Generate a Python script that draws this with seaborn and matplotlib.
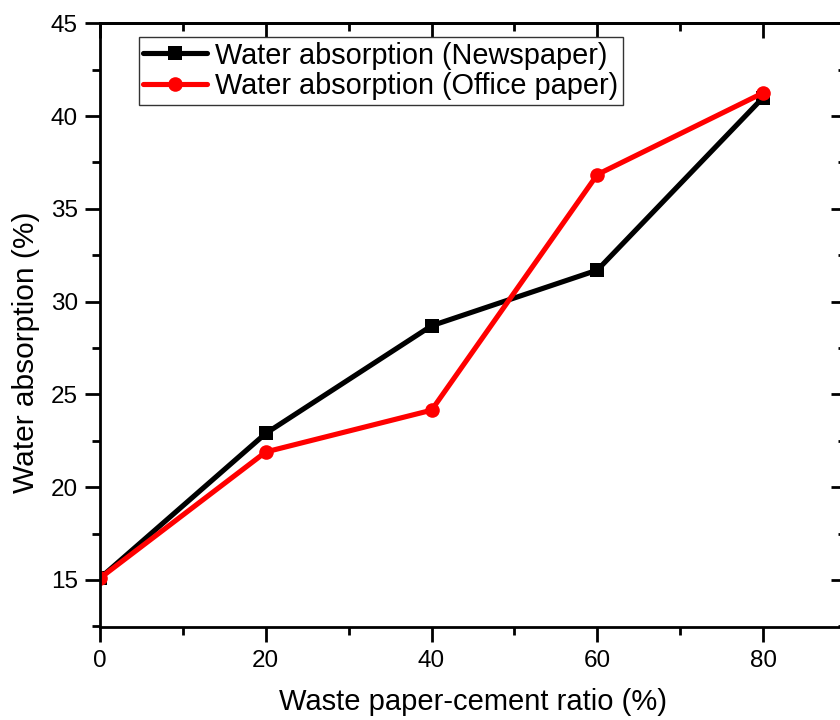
import matplotlib
matplotlib.use("Agg")
import matplotlib.pyplot as plt
import seaborn as sns
import pandas as pd
from matplotlib.ticker import MultipleLocator

ratio = [0, 20, 40, 60, 80]
newspaper = [15.1, 22.9, 28.7, 31.7, 41.0]
office = [15.1, 21.9, 24.15, 36.85, 41.25]
label_news = "Water absorption (Newspaper)"
label_office = "Water absorption (Office paper)"
xlabel = "Waste paper-cement ratio (%)"
ylabel = "Water absorption (%)"

sns.set_theme(style="white")
plt.rcParams['font.family'] = ['Liberation Sans', 'DejaVu Sans']
plt.rcParams['text.color'] = 'black'
plt.rcParams['axes.labelcolor'] = 'black'
plt.rcParams['xtick.color'] = 'black'
plt.rcParams['ytick.color'] = 'black'
plt.rcParams['xtick.labelsize'] = 17.5
plt.rcParams['ytick.labelsize'] = 17.5

df_news = pd.DataFrame({"x": ratio, "y": newspaper})
df_off = pd.DataFrame({"x": ratio, "y": office})

fig = plt.figure(figsize=(8.4, 7.2), dpi=100)
ax = fig.add_axes([100/840, 1-627.3/720, 746/840, (627.3-23.3)/720])

sns.lineplot(data=df_news, x="x", y="y", ax=ax, color="black", linewidth=3.7,
             marker="s", markersize=9.5, markeredgewidth=0, label=label_news)
sns.lineplot(data=df_off, x="x", y="y", ax=ax, color="#ff0000", linewidth=3.7,
             marker="o", markersize=10.5, markeredgewidth=0, label=label_office)

ax.set_xlim(0, 90)
ax.set_ylim(12.45, 45)
ax.xaxis.set_major_locator(MultipleLocator(20))
ax.xaxis.set_minor_locator(MultipleLocator(10))
ax.yaxis.set_major_locator(MultipleLocator(5))
ax.yaxis.set_minor_locator(MultipleLocator(2.5))
ax.set_yticks([15, 20, 25, 30, 35, 40, 45])

for s in ax.spines.values():
    s.set_visible(True)
    s.set_color("black")
    s.set_linewidth(2)

ax.tick_params(axis="both", which="major", direction="out", length=11, width=2,
               labelsize=17.5, colors="black", pad=5, bottom=True, left=True)
ax.tick_params(axis="both", which="minor", direction="out", length=6, width=2,
               colors="black", bottom=True, left=True)

top = ax.secondary_xaxis("top")
top.xaxis.set_major_locator(MultipleLocator(20))
top.xaxis.set_minor_locator(MultipleLocator(10))
top.tick_params(which="major", direction="in", length=11, width=2, labeltop=False)
top.tick_params(which="minor", direction="in", length=6, width=2)
right = ax.secondary_yaxis("right")
right.yaxis.set_major_locator(MultipleLocator(5))
right.yaxis.set_minor_locator(MultipleLocator(2.5))
right.tick_params(which="major", direction="in", length=11, width=2, labelright=False)
right.tick_params(which="minor", direction="in", length=6, width=2)
for sec in (top, right):
    for s in sec.spines.values():
        s.set_linewidth(2)
        s.set_color("black")

ax.set_xlabel(xlabel, fontsize=21, color="black", labelpad=12)
ax.set_ylabel(ylabel, fontsize=21.5, color="black")
ax.yaxis.set_label_coords(-0.081, 0.456)

leg = ax.legend(loc="upper left", bbox_to_anchor=(0.052, 0.977), borderaxespad=0,
                fontsize=20.8, handlelength=2.2, handletextpad=0.3, numpoints=1,
                fancybox=False, frameon=True, borderpad=0.15, labelspacing=0.1)
leg.get_frame().set_edgecolor("#333333")
leg.get_frame().set_linewidth(1)
leg.get_frame().set_alpha(1)
for t in leg.get_texts():
    t.set_color("black")

fig.savefig("out.png", dpi=100)
